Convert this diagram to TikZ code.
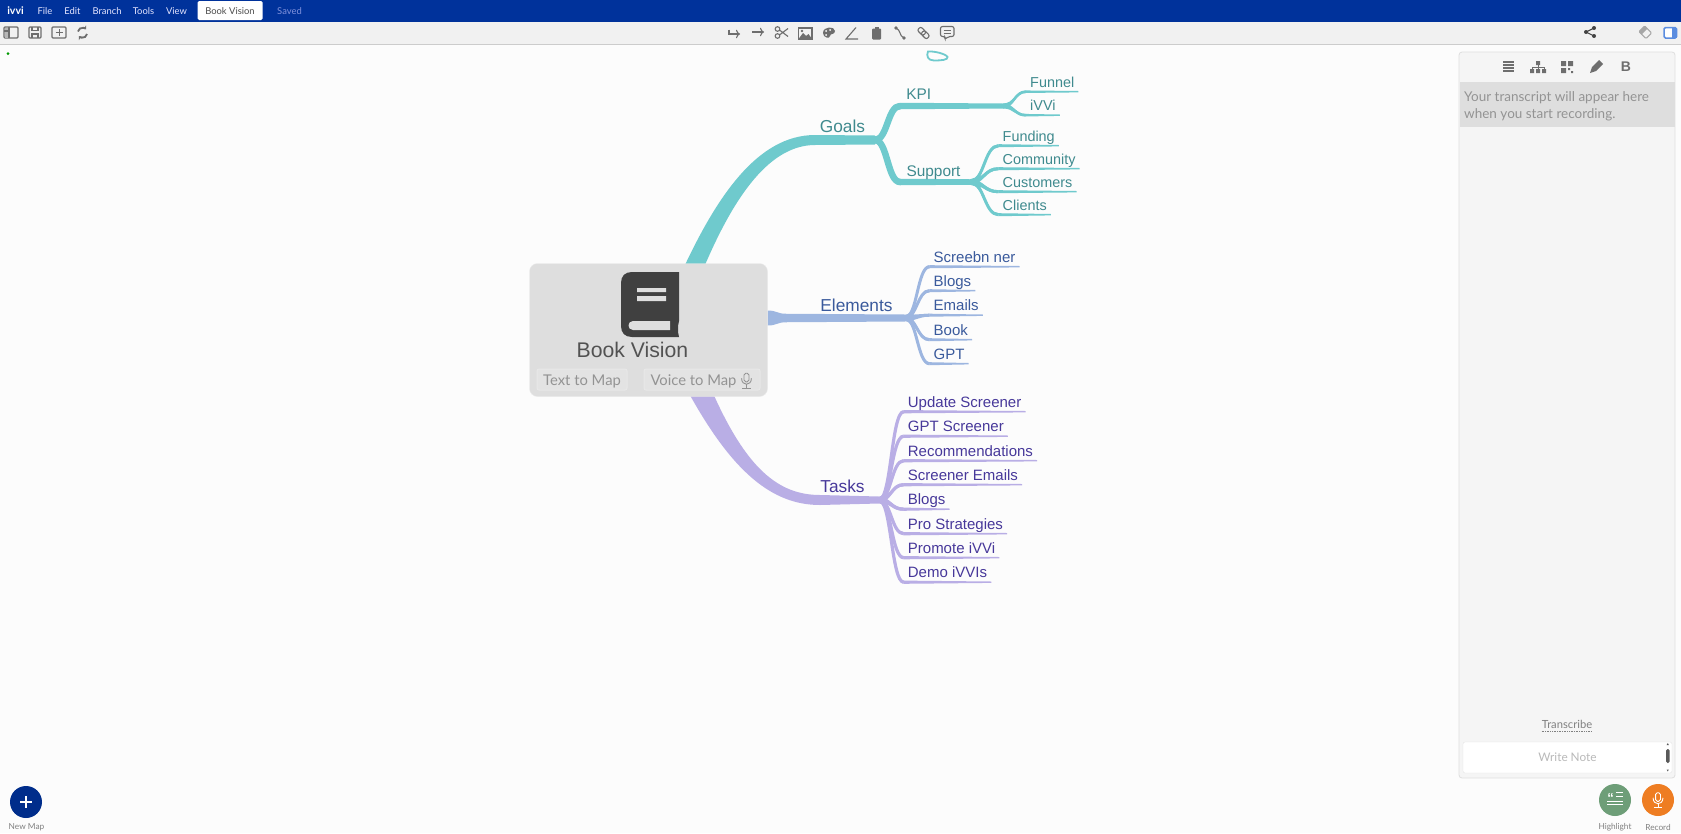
\documentclass[tikz,border=0pt]{standalone}
\usepackage{fontspec}
\setmainfont{Liberation Sans}
\newfontfamily\uifont{Lato}
\usetikzlibrary{calc,backgrounds,arrows.meta}

\definecolor{barblue}{HTML}{00329B}
\definecolor{toolgrey}{HTML}{F1F1F1}
\definecolor{icongrey}{HTML}{6E6E6E}
\definecolor{boxgrey}{HTML}{DEDEDE}
\definecolor{goalline}{HTML}{6FCACD}
\definecolor{goaltext}{HTML}{3F8A8E}
\definecolor{elemline}{HTML}{9DB6E0}
\definecolor{elemtext}{HTML}{3A5A9C}
\definecolor{taskline}{HTML}{B9AEE5}
\definecolor{tasktext}{HTML}{47389A}
\definecolor{panelblue}{HTML}{5B8DE0}
\definecolor{recordorange}{HTML}{EE7D22}
\definecolor{highlightgreen}{HTML}{6E9E78}

% tapered branch: colour, from, to, width at from, width at to
\newcommand{\limb}[5]{%
  \fill[#1] let \p1=(#2), \p2=(#3), \n1={(\x1+\x2)/2} in
    (\x1,\y1+#4/2) .. controls (\n1,\y1+#4/2) and (\n1,\y2+#5/2) .. (\x2,\y2+#5/2)
    -- (\x2,\y2-#5/2) .. controls (\n1,\y2-#5/2) and (\n1,\y1-#4/2) .. (\x1,\y1-#4/2) -- cycle;}
% the same with a stroke down the middle, for the steep ones
\newcommand{\bough}[5]{%
  \limb{#1}{#2}{#3}{#4}{#5}
  \draw[#1,line width=#5] let \p1=(#2), \p2=(#3), \n1={(\x1+\x2)/2} in
    (\x1,\y1) .. controls (\n1,\y1) and (\n1,\y2) .. (\x2,\y2);}

\tikzset{
  leaf/.style={anchor=west,inner xsep=4pt,inner ysep=3pt,text height=11.5pt,text depth=1.5pt,
    font=\fontsize{15}{17}\selectfont},
  stem/.style={font=\fontsize{15.4}{17}\selectfont,inner sep=0pt},
  limbname/.style={font=\fontsize{17.3}{19}\selectfont,inner sep=0pt},
  menu/.style={text=#1,font=\uifont\fontsize{9.4}{11}\selectfont,inner sep=0pt},
  small/.style={text=gray,font=\uifont\fontsize{8.3}{10}\selectfont,inner sep=0pt},
  iconline/.style={draw=icongrey,line width=1.1pt},
  mapbtn/.style={draw=boxgrey!70!white,fill=boxgrey!85!white,rounded corners=2pt,line width=1pt,
    minimum height=21pt,inner sep=0pt,text=gray!85,text height=12.5pt,text depth=1pt,
    font=\uifont\fontsize{14.8}{16}\selectfont},
  mic/.pic={
    \draw[#1,line width=0.9pt,rounded corners=1.8pt] (-1.7,-4) rectangle (1.7,2);
    \draw[#1,line width=0.9pt] (-3.4,-0.5) .. controls (-3.4,5) and (3.4,5) .. (3.4,-0.5);
    \draw[#1,line width=0.9pt] (0,3.6) -- (0,6.5) (-2.8,6.5) -- (2.8,6.5);
  }
}

\begin{document}
\begin{tikzpicture}[x=1pt,y=-1pt]
\useasboundingbox (0,0) rectangle (1681,833);

% window bars
\fill[barblue] (0,0) rectangle (1681,21.5);
\fill[toolgrey] (0,21.5) rectangle (1681,44);
\draw[gray!40,line width=0.8pt] (0,44.3) -- (1681,44.3);
\fill[white,rounded corners=1.5pt] (197.5,1) rectangle (262.5,20);

\node[text=white,font=\uifont\bfseries\fontsize{10.5}{12}\selectfont,inner sep=0pt] (logo) at (15.5,11) {ivvi};
\node[menu=blue!10!white] (file) at (45,11) {File};
\node[menu=blue!10!white] (edit) at (72.5,11) {Edit};
\node[menu=blue!10!white] (branch) at (107,11) {Branch};
\node[menu=blue!10!white] (tools) at (143.5,11) {Tools};
\node[menu=blue!10!white] (view) at (176.5,11) {View};
\node[menu=black!70] (tab) at (230,11) {Book Vision};
\node[menu=blue!30!barblue!50!white] (saved) at (289.5,11) {Saved};

% left tool icons
\draw[iconline,rounded corners=1pt] (4,27) rectangle (18,38);
\fill[icongrey!50] (4.5,27.5) rectangle (9,37.5);
\draw[iconline] (4,31) -- (9,31) (9,27) -- (9,38);
\draw[iconline,rounded corners=1pt] (29,27) rectangle (41,38);
\draw[iconline] (32,27) -- (32,30.5) -- (38,30.5) -- (38,27) (32,38) -- (32,34) -- (38,34) -- (38,38);
\draw[iconline,rounded corners=1pt] (52,27) rectangle (66,38);
\draw[iconline,line width=0.9pt] (55.5,32.5) -- (62.5,32.5) (59,29) -- (59,36);
\draw[icongrey,line width=1.8pt,-{Stealth[length=3pt,width=5pt]}] (78,31.5) arc[start angle=190,end angle=320,radius=4.6];
\draw[icongrey,line width=1.8pt,-{Stealth[length=3pt,width=5pt]}] (87,34) arc[start angle=10,end angle=140,radius=4.6];

% middle tool icons
\draw[iconline,->] (729,29.5) -- (729,34) -- (740,34);
\draw[iconline,->] (752,32) -- (764,32);
\draw[iconline] (777.5,29) circle[radius=2.3] (777.5,36) circle[radius=2.3] (779.5,30) -- (788,36.5) (779.5,35) -- (788,28.5);
\draw[iconline] (798.5,28) rectangle (812,39);
\fill[icongrey] (798.5,39) -- (803,33) -- (806,36) -- (808.5,34) -- (812,39) -- cycle;
\fill[icongrey] (802,31) circle[radius=1.4];
\fill[icongrey] (823,33) .. controls (823,26) and (835,26) .. (835,31) .. controls (835,35) and (830,33) .. (830,36) .. controls (830,39) and (823,38) .. (823,33) -- cycle;
\fill[white] (826,31) circle[radius=1] (830,30) circle[radius=1] (826,35) circle[radius=1];
\draw[iconline] (856,27.5) -- (846,39) -- (858,39);
\fill[icongrey,rounded corners=1pt] (872,28.5) rectangle (881,39.5);
\fill[icongrey] (874.5,26.5) rectangle (878.5,29);
\fill[icongrey] (896,28) circle[radius=1.8] (904,38) circle[radius=1.8];
\draw[iconline] (896,28) .. controls (901,30) and (899,36) .. (904,38);
\draw[iconline,rotate around={-45:(923.5,33)},rounded corners=2pt] (917,30.5) rectangle (925,35.5) (922,30.5) rectangle (930,35.5);
\draw[iconline,rounded corners=2pt] (940.5,26.5) -- (954,26.5) -- (954,36.5) -- (948,36.5) -- (945,39.5) -- (945,36.5) -- (940.5,36.5) -- cycle;
\draw[iconline,line width=0.7pt] (943.5,30) -- (951,30) (943.5,33) -- (951,33);

% stray mark under the toolbar
\draw[goalline,line width=1.8pt] (928,51.5) .. controls (926,56) and (928,60.5) .. (934,60.5) .. controls (941,60.5) and (948,60) .. (947.5,57) .. controls (946,54) and (935,51) .. (928,51.5) -- cycle;
\fill[green!60!black] (8,53.5) circle[radius=1.5];

% right tool icons
\fill[icongrey!130] (1586,32) circle[radius=2] (1594,28) circle[radius=2] (1594,36) circle[radius=2];
\draw[icongrey!130,line width=1.1pt] (1594,28) -- (1586,32) -- (1594,36);
\draw[draw=gray!70,line width=1pt,rotate around={45:(1646,33)},rounded corners=1pt] (1642,27) rectangle (1650,37);
\fill[gray!70,rotate around={45:(1646,33)}] (1642,27) rectangle (1650,31);
\draw[panelblue,line width=1.5pt,rounded corners=1.5pt,fill=white] (1664,27.5) rectangle (1676.5,38);
\fill[panelblue] (1672,27.5) rectangle (1676.5,38);

% book box and texts
\node[fill=boxgrey,draw=white!92!black,rounded corners=8pt,minimum width=238pt,minimum height=133pt,inner sep=0pt] (book) at (648.5,330) {};
\fill[black!75] (632,272) -- (679,272) -- (679,321) -- (678,326) -- (678,332) -- (679,337) -- (632,337)
  .. controls (625,337) and (621,333) .. (621,326) -- (621,283) .. controls (621,276) and (625,272) .. (632,272) -- cycle;
\fill[boxgrey] (633,321) -- (670,321) -- (670,330) -- (633,330) .. controls (627,330) and (627,321) .. (633,321) -- cycle;
\fill[boxgrey] (637,288) rectangle (666,292) (637,296) rectangle (666,301);
\node[text=black!68,font=\fontsize{21.2}{24}\selectfont,inner sep=0pt] (title) at (632.5,350) {Book Vision};
\node[mapbtn,minimum width=90pt] (textmap) at (582,379.5) {Text to Map};
\node[mapbtn,minimum width=116pt] (voicemap) at (702,379.5) {Voice to Map\rule{17pt}{0pt}};
\pic[scale=1.45] at (746.5,379) {mic=gray!85};

% goals
\node[limbname,text=goaltext] (goals) at (842.5,126.5) {Goals};
\node[stem,text=goaltext] (kpi) at (918.7,94) {KPI};
\node[stem,text=goaltext] (support) at (933.5,172.5) {Support};
\foreach \nodename/\nodetext/\ypos in {funnel/Funnel/82,ivvi/iVVi/105.5}
  \node[leaf,text=goaltext,font=\fontsize{14.4}{16}\selectfont] (\nodename) at (1026,\ypos) {\nodetext};
\foreach \nodename/\nodetext/\ypos in {funding/Funding/136,community/Community/159,customers/Customers/182,clients/Clients/205}
  \node[leaf,text=goaltext,font=\fontsize{14.4}{16}\selectfont] (\nodename) at (998.5,\ypos) {\nodetext};

% elements
\node[limbname,text=elemtext] (elements) at (856.5,305) {Elements};
\foreach \nodename/\nodetext/\ypos in {screener/Screebn ner/257,eblogs/Blogs/281,emails/Emails/305.5,ebook/Book/330,egpt/GPT/354}
  \node[leaf,text=elemtext] (\nodename) at (929.5,\ypos) {\nodetext};

% tasks
\node[limbname,text=tasktext] (tasks) at (842.5,486.5) {Tasks};
\foreach \nodename/\nodetext/\ypos in {update/Update Screener/402,gptscr/GPT Screener/426.5,recom/Recommendations/451,scremail/Screener Emails/475,tblogs/Blogs/499.5,prostrat/Pro Strategies/524,promote/Promote iVVi/548,demo/Demo iVVIs/572.5}
  \node[leaf,text=tasktext] (\nodename) at (903.7,\ypos) {\nodetext};

\coordinate (goalfork) at (875,140);
\coordinate (kpibend) at (900,106);
\coordinate (kpifork) at (1003,106);
\coordinate (supbend) at (900,182);
\coordinate (supfork) at (970,182);
\coordinate (elemroot) at ([yshift=12pt]book.east);
\coordinate (elemfork) at (905,318);
\coordinate (elemneck) at (786,318);
\coordinate (taskfork) at (879,500);

\begin{scope}[on background layer]
\fill[white!99!black] (0,45) rectangle (1681,833);
\fill[goalline] ([xshift=33.5pt]book.north) ++(0,8) .. controls (716,198) and (757,135) .. (815,135)
  -- ([yshift=4.5pt]goalfork) -- ([yshift=-4.5pt]goalfork) -- (815,145)
  .. controls (766,145) and (730,205) .. (702,272) -- cycle;
\bough{goalline}{goalfork}{kpibend}{7pt}{6.5pt}
\limb{goalline}{kpibend}{kpifork}{6.5pt}{5pt}
\bough{goalline}{goalfork}{supbend}{7pt}{6.5pt}
\limb{goalline}{supbend}{supfork}{6.5pt}{5.5pt}
\foreach \nodename in {funnel,ivvi}{
  \bough{goalline}{kpifork}{\nodename.south west}{5pt}{2.5pt}
  \limb{goalline}{\nodename.south west}{\nodename.south east}{2.5pt}{1.4pt}
}
\foreach \nodename in {funding,community,customers,clients}{
  \bough{goalline}{supfork}{\nodename.south west}{5.5pt}{3pt}
  \limb{goalline}{\nodename.south west}{\nodename.south east}{3pt}{1.4pt}
}
\limb{elemline}{elemroot}{elemneck}{15pt}{8.5pt}
\limb{elemline}{elemneck}{elemfork}{8.5pt}{7pt}
\foreach \nodename in {screener,eblogs,emails,ebook,egpt}{
  \bough{elemline}{elemfork}{\nodename.south west}{6pt}{3pt}
  \limb{elemline}{\nodename.south west}{\nodename.south east}{3pt}{1.4pt}
}
\fill[taskline] ([xshift=39pt]book.south) ++(0,-6) .. controls (732,472) and (772,505) .. (820,505)
  -- ([yshift=-3.5pt]taskfork) -- ([yshift=3.5pt]taskfork) -- (820,495)
  .. controls (778,495) and (746,468) .. (712,391) -- cycle;
\foreach \nodename in {update,gptscr,recom,scremail,tblogs,prostrat,promote,demo}{
  \bough{taskline}{taskfork}{\nodename.south west}{6pt}{3.2pt}
  \limb{taskline}{\nodename.south west}{\nodename.south east}{3.2pt}{1.4pt}
}
\end{scope}

% transcript panel
\fill[gray!8,draw=gray!25,rounded corners=3pt,line width=0.8pt] (1459,52) rectangle (1675,778);
\fill[boxgrey] (1459.5,82) rectangle (1674.5,127);
\draw[icongrey,line width=1.1pt] (1503,62) -- (1514,62) (1503,65) -- (1514,65) (1503,68) -- (1514,68) (1503,71) -- (1514,71);
\fill[icongrey] (1536,61) rectangle (1540,65) (1530,69) rectangle (1534,73) (1536,69) rectangle (1540,73) (1542,69) rectangle (1546,73);
\draw[icongrey,line width=0.8pt] (1538,65) -- (1538,69) (1532,69) -- (1532,67) -- (1544,67) -- (1544,69);
\fill[icongrey] (1561,61) rectangle (1566,66) (1568,61) rectangle (1573,66) (1561,68) rectangle (1566,73) (1568,68) rectangle (1570,70) (1571,71) rectangle (1573,73);
\fill[icongrey] (1590,73) -- (1592,67) -- (1599,60) -- (1603,64) -- (1596,71) -- cycle;
\node[text=icongrey,font=\bfseries\fontsize{14}{16}\selectfont,inner sep=0pt] (boldb) at (1626,67) {B};
\node[text=gray!85,font=\uifont\fontsize{13.5}{17.6}\selectfont,anchor=north west,align=left,inner sep=0pt] (transcript) at (1464,91) {Your transcript will appear here\\when you start recording.};
\node[text=gray,font=\uifont\fontsize{11.2}{13}\selectfont,inner sep=0pt] (transcribe) at (1567,724.5) {Transcribe};
\draw[gray,densely dotted,line width=0.7pt] ([yshift=-2.5pt]transcribe.south west) -- ([yshift=-2.5pt]transcribe.south east);
\node[fill=white,draw=gray!20,rounded corners=2pt,minimum width=209pt,minimum height=31pt,inner sep=0pt,
  text=gray!55,font=\uifont\fontsize{11.8}{14}\selectfont] (note) at (1567.5,757.5) {Write Note};
\fill[black!65,rounded corners=1.5pt] (1666,749) rectangle (1669.5,763);
\fill[black!65] (1666.7,745) -- (1668.8,745) -- (1667.75,743) -- cycle (1666.7,769.5) -- (1668.8,769.5) -- (1667.75,771.5) -- cycle;

% round buttons
\node[circle,fill=barblue!90!black,minimum size=32pt,inner sep=0pt] (newmap) at (26,802) {};
\draw[white,line width=2.2pt] (20,802) -- (32,802) (26,796) -- (26,808);
\node[small] (newmaplabel) at (26.5,827) {New Map};
\node[circle,fill=highlightgreen,minimum size=32pt,inner sep=0pt] (highlight) at (1615,800) {};
\node[text=white,font=\bfseries\fontsize{13}{13}\selectfont,inner sep=0pt] (quote) at (1610.5,798) {``};
\draw[white,line width=0.9pt] (1616,792.5) -- (1623,792.5) (1616,796) -- (1623,796) (1607,801) -- (1623,801) (1607,804.5) -- (1623,804.5);
\node[small] (highlightlabel) at (1615,827) {Highlight};
\node[circle,fill=recordorange,minimum size=32pt,inner sep=0pt] (record) at (1658,800) {};
\pic[scale=1.45] at (1658,798.5) {mic=white};
\node[small] (recordlabel) at (1658,827) {Record};
\end{tikzpicture}
\end{document}
